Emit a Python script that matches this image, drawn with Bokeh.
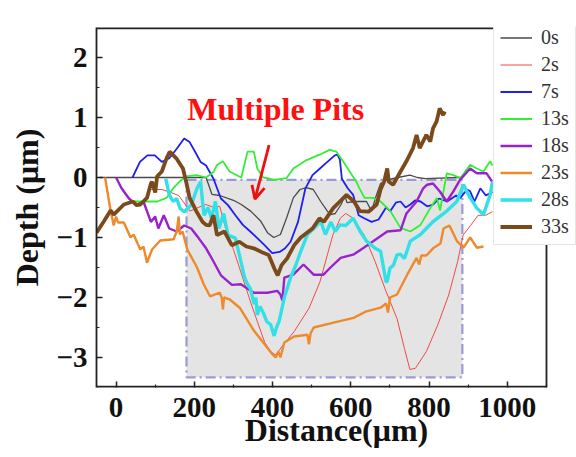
from bokeh.plotting import figure
from bokeh.models import (Legend, LegendItem, CustomJSTickFormatter, FixedTicker,
                          Arrow, OpenHead, Label, Range1d)
from bokeh.embed import file_html
from bokeh.resources import INLINE

# ---------------- data ----------------
labels = ["0s", "2s", "7s", "13s", "18s", "23s", "28s", "33s"]

x0 = [-42, 230, 245, 265, 300, 320, 344, 370, 387, 403, 420, 436, 453, 470, 486, 504, 523, 540, 548,
      560, 575, 585, 590, 614, 640, 653, 665, 676, 692, 720, 751, 770, 790, 880]
y0 = [0, 0, -0.28, -0.3, -0.38, -0.45, -0.56, -0.73, -0.92, -1.0, -0.95, -0.67, -0.34, -0.2, -0.17,
      -0.2, -0.4, -0.56, -0.62, -0.6, -0.45, -0.3, -0.42, -0.4, -0.4, -0.56, -0.3, -0.1, -0.04, 0.0,
      0.04, 0.0, -0.02, 0.0]

x2 = [90, 117, 140, 160, 189, 210, 230, 250, 265, 280, 300, 324, 345, 361, 380, 395, 408, 427, 455,
      493, 521, 540, 554, 573, 587, 606, 634, 662, 690, 718, 737, 751, 765, 793, 822, 850, 873, 887,
      906, 925, 944, 962]
y2 = [-0.2, -0.2, -0.25, -0.3, -0.56, -0.5, -0.45, -0.5, -0.48, -0.85, -1.2, -1.68, -2.1, -2.4,
      -2.75, -2.9, -2.96, -2.79, -2.57, -2.18, -1.74, -1.29, -0.96, -0.68, -0.6, -0.68, -0.96, -1.4,
      -1.9, -2.35, -2.85, -3.2, -3.18, -2.9, -2.46, -1.96, -1.4, -0.96, -0.8, -0.63, -0.63, -0.57]

x7 = [42, 61, 80, 99, 117, 136, 155, 174, 188, 202, 216, 230, 249, 268, 286, 305, 324, 343, 361,
      380, 399, 418, 432, 446, 465, 484, 502, 521, 540, 559, 566, 572, 577, 592, 606, 620, 634, 653,
      671, 690, 701, 715, 727, 740, 752, 765, 778, 795, 811, 825, 846, 869, 880, 897, 905, 916, 931,
      945, 962]
y7 = [0, 0.26, 0.37, 0.37, 0.26, 0.32, 0.48, 0.65, 0.59, 0.43, 0.26, 0.2, -0.02, -0.35, -0.46,
      -0.63, -0.79, -0.9, -1.01, -1.13, -1.26, -1.24, -1.18, -1.07, -0.74, -0.18, 0.04, 0.15, 0.26,
      0.37, 0.38, 0.3, -0.02, -0.18, -0.29, -0.63, -0.68, -0.74, -0.7, -0.5, -0.56, -0.42, -0.4, -0.5,
      -0.45, -0.38, -0.4, -0.48, -0.45, -0.35, -0.4, -0.3, -0.34, -0.2, -0.23, -0.4, -0.18, -0.3, -0.24]

x13 = [42, 62, 105, 129, 146, 162, 179, 205, 230, 249, 258, 273, 290, 305, 320, 336, 352, 361, 376,
       387, 403, 436, 453, 470, 487, 520, 546, 563, 580, 597, 614, 622, 635, 657, 676, 701, 727, 752,
       778, 803, 820, 828, 845, 862, 880, 905, 922, 939, 956, 962]
y13 = [-0.4, -0.4, -0.4, -0.34, -0.18, -0.07, 0.02, 0.04, 0.0, 0.09, 0.21, 0.27, 0.1, 0.05, 0.0,
       0.43, 0.43, 0.15, 0.0, -0.01, -0.04, -0.01, 0.15, 0.22, 0.29, 0.38, 0.46, 0.43, 0.27, 0.1,
       -0.07, -0.18, -0.34, -0.34, -0.4, -0.56, -0.84, -0.9, -0.79, -0.51, -0.34, -0.55, 0.07, 0.04,
       -0.01, 0.21, 0.15, 0.1, 0.27, 0.2]

x18 = [0, 14, 33, 52, 70, 89, 100, 108, 122, 136, 155, 174, 192, 211, 230, 249, 268, 296, 319, 352,
       387, 412, 420, 425, 430, 453, 479, 505, 530, 548, 574, 608, 633, 658, 693, 727, 742, 768, 785,
       795, 810, 827, 845, 862, 879, 905, 922, 947, 961]
y18 = [0, -0.18, -0.35, -0.46, -0.4, -0.74, -0.65, -0.85, -0.63, -0.85, -0.9, -0.8, -0.85, -1.01,
       -1.18, -1.4, -1.63, -1.79, -1.78, -1.92, -1.92, -1.89, -1.95, -2.05, -1.67, -1.62, -1.45, -1.62,
       -1.62, -1.5, -1.34, -1.28, -1.17, -1.06, -0.9, -0.88, -0.6, -0.4, -0.18, -0.12, -0.1, -0.23,
       -0.4, -0.23, -0.04, 0.15, 0.07, 0.07, -0.07]

x23 = [-28, -23, -14, -6, 0, 5, 20, 37, 45, 55, 62, 70, 79, 92, 113, 147, 155, 160, 163, 170, 182,
       207, 224, 240, 265, 270, 273, 276, 290, 316, 353, 387, 400, 408, 415, 420, 430, 455, 489, 493,
       497, 505, 556, 607, 640, 676, 690, 695, 700, 718, 744, 768, 775, 780, 793, 812, 829, 837, 852,
       871, 888, 905, 922, 939]
y23 = [0, -0.2, -0.55, -0.8, -0.65, -0.75, -0.75, -1.0, -0.95, -1.1, -1.2, -1.15, -1.42, -1.2, -1.05,
       -1.03, -0.9, -0.65, -0.95, -0.9, -1.2, -1.5, -1.78, -1.98, -1.92, -2.0, -2.2, -2.0, -2.03,
       -2.17, -2.56, -2.84, -2.95, -3.0, -2.9, -3.0, -2.75, -2.65, -2.62, -2.78, -2.6, -2.5, -2.42,
       -2.34, -2.23, -2.17, -2.1, -2.25, -2.0, -1.95, -1.62, -1.34, -1.45, -1.3, -1.3, -1.17, -1.1,
       -0.85, -0.8, -1.06, -1.17, -1.0, -1.17, -1.15]

x28 = [127, 136, 146, 155, 164, 174, 192, 207, 216, 221, 225, 235, 244, 254, 263, 275, 286, 305, 315,
       329, 336, 343, 353, 357, 361, 368, 378, 385, 395, 404, 410, 417, 430, 446, 460, 472, 489, 505,
       523, 535, 549, 560, 572, 587, 606, 624, 640, 662, 676, 690, 693, 700, 709, 718, 727, 737, 752,
       778, 811, 845, 871, 888, 905, 922, 939, 956, 962]
y28 = [-0.02, -0.29, -0.4, -0.35, -0.52, -0.57, -0.46, -0.18, -0.07, -0.4, -0.63, -0.5, -0.68, -0.4,
       -0.85, -0.6, -0.96, -1.01, -1.29, -1.68, -1.78, -1.85, -2.11, -2.0, -2.29, -2.15, -2.28, -2.4,
       -2.45, -2.64, -2.5, -2.39, -2.0, -1.67, -1.45, -1.23, -0.95, -0.85, -0.73, -0.95, -0.74, -0.9,
       -0.79, -0.8, -0.68, -0.9, -1.06, -1.18, -1.23, -1.74, -1.73, -1.51, -1.46, -1.29, -1.28, -1.35,
       -1.06, -0.95, -0.73, -0.56, -0.4, -0.12, -0.34, -0.51, -0.62, -0.29, -0.07]

x33 = [-50, -31, -14, -6, 20, 43, 52, 62, 79, 89, 92, 100, 105, 117, 129, 137, 154, 171, 179, 188,
       205, 221, 230, 239, 249, 258, 277, 296, 315, 333, 352, 371, 390, 404, 413, 423, 437, 455, 472,
       502, 520, 531, 555, 572, 589, 608, 623, 645, 666, 676, 685, 693, 697, 708, 727, 742, 759, 768,
       776, 793, 803, 810, 819, 827, 836, 840]
y33 = [-0.92, -0.73, -0.55, -0.62, -0.45, -0.4, -0.46, -0.45, -0.34, -0.1, -0.07, -0.25, 0.02, 0.1,
       0.32, 0.43, 0.32, 0.15, -0.07, -0.34, -0.56, -0.74, -0.79, -0.8, -0.63, -0.96, -0.9, -1.13,
       -1.07, -1.15, -1.18, -1.24, -1.29, -1.51, -1.63, -1.46, -1.35, -1.13, -1.0, -0.85, -0.68, -0.74,
       -0.51, -0.4, -0.29, -0.4, -0.56, -0.57, -0.45, -0.2, -0.07, 0.15, -0.07, -0.12, 0.1, 0.27, 0.49,
       0.71, 0.49, 0.71, 0.6, 0.82, 0.93, 1.15, 1.04, 1.1]

# highlighted pit region [x_left, x_right], [y_bottom, y_top]
region_x = [180, 885]
region_y = [-3.33, -0.04]

# axis box limits, plus extra room on the right where the legend hangs over the box
x_lim = [-50, 1100]
y_lim = [-3.5, 2.5]
x_view_end = 1176.7

x_ticks = [0, 200, 400, 600, 800, 1000]
x_minor = [100, 300, 500, 700, 900, 1100]
y_ticks = [-3, -2, -1, 0, 1, 2]
y_minor = [-2.5, -1.5, -0.5, 0.5, 1.5]

annot_text = "Multiple Pits"
annot_pos = [408, 1.15]
arrow_from = [391, 0.54]
arrow_to = [355, -0.36]

# ---------------- styling ----------------
colors = ["#4a4a4a", "#f04848", "#1f1fee", "#33ee33", "#9a22cc", "#ee8a2c", "#33e0e8", "#7b4a1c"]
widths = [1.3, 1.0, 1.8, 1.8, 2.4, 2.4, 3.4, 3.8]
serif = "Liberation Serif"
frame_col = "#222222"

p = figure(width=576, height=457, x_range=Range1d(x_lim[0], x_view_end), y_range=Range1d(*y_lim),
           output_backend="svg", toolbar_location=None,
           min_border_left=96, min_border_right=0, min_border_top=27, min_border_bottom=70)
p.background_fill_color = "white"
p.border_fill_color = "white"
p.outline_line_color = None
p.xgrid.visible = False
p.ygrid.visible = False

p.quad(left=region_x[0], right=region_x[1], bottom=region_y[0], top=region_y[1],
       fill_color="#e4e4e4", line_color="#9a9ad6", line_width=2.2, line_dash="10 4 2 4")

xs = [x0, x2, x7, x13, x18, x23, x28, x33]
ys = [y0, y2, y7, y13, y18, y23, y28, y33]
items = []
for lab, xx, yy, c, w in zip(labels, xs, ys, colors, widths):
    r = p.line(xx, yy, line_color=c, line_width=w)
    items.append(LegendItem(label=lab, renderers=[r]))

# axis box (top, bottom and right edges; left edge is the y axis line)
p.segment(x0=[x_lim[0], x_lim[0]], y0=[y_lim[1], y_lim[0]], x1=[x_lim[1], x_lim[1]],
          y1=[y_lim[1], y_lim[0]], line_color=frame_col, line_width=3.6)
p.segment(x0=[x_lim[1]], y0=[y_lim[0]], x1=[x_lim[1]], y1=[y_lim[1]],
          line_color=frame_col, line_width=1.8)

for ax in (p.xaxis[0], p.yaxis[0]):
    ax.major_label_text_font = serif
    ax.major_label_text_font_style = "bold"
    ax.major_label_text_font_size = "29px"
    ax.major_label_text_color = "#111111"
    ax.axis_label_text_font = serif
    ax.axis_label_text_font_style = "bold"
    ax.axis_label_text_font_size = "32px"
    ax.axis_label_text_color = "#111111"
    ax.major_tick_in = 6
    ax.major_tick_out = 0
    ax.minor_tick_in = 3
    ax.minor_tick_out = 0
    ax.major_tick_line_width = 1.5
    ax.minor_tick_line_width = 1.2
    ax.major_tick_line_color = frame_col
    ax.minor_tick_line_color = frame_col
    ax.axis_line_width = 1.8
    ax.axis_line_color = frame_col
p.xaxis.axis_line_color = None

p.xaxis.ticker = FixedTicker(ticks=x_ticks, minor_ticks=x_minor)
p.yaxis.ticker = FixedTicker(ticks=y_ticks, minor_ticks=y_minor)
p.yaxis.formatter = CustomJSTickFormatter(code="return tick < 0 ? '\u2212' + Math.abs(tick) : String(tick);")
p.xaxis.axis_label = "Distance(μm)"
p.yaxis.axis_label = "Depth (μm)"
p.xaxis.major_label_standoff = 10
p.yaxis.major_label_standoff = 9
p.xaxis.axis_label_standoff = -8
p.yaxis.axis_label_standoff = 8

p.add_layout(Label(x=annot_pos[0], y=annot_pos[1], text=annot_text, text_align="center",
                   text_baseline="middle", text_font=serif, text_font_style="bold",
                   text_font_size="32px", text_color="#ff1010"))
p.add_layout(Arrow(x_start=arrow_from[0], y_start=arrow_from[1], x_end=arrow_to[0], y_end=arrow_to[1],
                   line_color="#ee1010", line_width=2.8,
                   end=OpenHead(size=13, line_color="#ee1010", line_width=2.8)))

legend = Legend(items=items, location=(397, 142), label_text_font=serif,
                label_text_font_size="20px", label_text_color="#333333",
                label_height=21, glyph_height=21, glyph_width=32, spacing=4, padding=6,
                label_standoff=9,
                border_line_color="#cccccc", border_line_width=1, background_fill_alpha=1.0,
                margin=0)
p.add_layout(legend)

open("out.html", "w").write(file_html(p, INLINE))
